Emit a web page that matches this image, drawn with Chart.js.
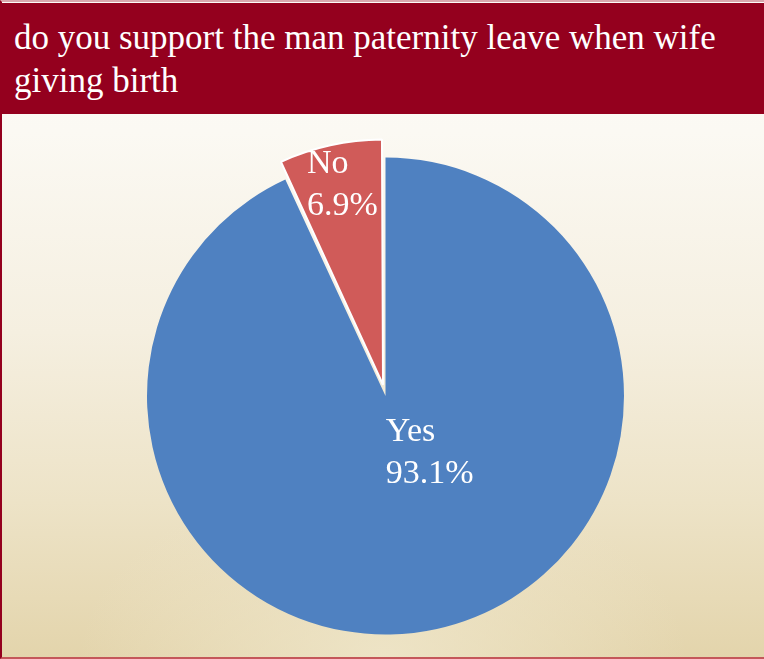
<!DOCTYPE html>
<html>
<head>
<meta charset="utf-8">
<script src="https://cdn.jsdelivr.net/npm/chart.js@4/dist/chart.umd.min.js"></script>
<style>
  html, body { margin: 0; padding: 0; background: #ffffff; }
  #frame {
    position: relative;
    width: 764px;
    height: 659px;
    overflow: hidden;
    box-sizing: border-box;
    background:
      radial-gradient(ellipse 40% 28% at 50% 100%, rgba(239, 230, 202, 0.85) 0%, rgba(239, 230, 202, 0) 100%),
      linear-gradient(to bottom, #fcfbf7 0px, #fbf9f3 130px, #f5efe0 330px, #ede3c7 500px, #e3d4ab 659px);
    border-left: 2px solid #94001e;
    border-bottom: 2px solid #c4575a;
    border-top: 2px solid #d9a8ae;
  }
  #titlebar {
    position: absolute;
    left: 0; right: 0; top: 1px;
    height: 111px;
    background: #94001e;
  }
  #title {
    position: absolute;
    left: 12px; top: 13px;
    margin: 0;
    font-family: "Liberation Serif", "Times New Roman", serif;
    font-weight: normal;
    font-size: 35px;
    line-height: 43px;
    color: #ffffff;
    white-space: nowrap;
  }
  #chart { position: absolute; left: 0; top: 0; }
</style>
</head>
<body>
<div id="frame">
  <div id="titlebar">
    <h1 id="title">do you support the man paternity leave when wife<br>giving birth</h1>
  </div>
  <canvas id="chart" width="764" height="659"></canvas>
</div>
<script>
// Survey answers and their shares (percent)
const categories = ['Yes', 'No'];
const shares = [93.1, 6.9];
const sliceColors = ['#4f81c1', '#d05b59'];

// Label block placement: fraction of the radius along the slice's middle
// angle, then a shift (px) to the left edge / first baseline
const labelPlacement = [
  { f: 0.2, dx: -10, dy: -2 },
  { f: 0.83, dx: -32, dy: -12 }
];

// Distance an arc is pushed out by its `offset` option (same rule ArcElement uses)
function arcShift(arc, p) {
  const off = (arc.options.offset || 0) / 4;
  const circ = p.endAngle - p.startAngle;
  const fix = 1 - Math.sin(Math.min(Math.PI, circ || 0));
  return off + off * fix;
}

const sliceLabels = {
  id: 'sliceLabels',
  afterDatasetsDraw(chart) {
    const ctx = chart.ctx;
    const meta = chart.getDatasetMeta(0);
    ctx.save();
    ctx.font = '34px "Liberation Serif", "Times New Roman", serif';
    ctx.fillStyle = '#ffffff';
    ctx.textAlign = 'left';
    ctx.textBaseline = 'alphabetic';
    meta.data.forEach((arc, i) => {
      const p = arc.getProps(['x', 'y', 'startAngle', 'endAngle', 'outerRadius'], true);
      const mid = (p.startAngle + p.endAngle) / 2;
      const t = arcShift(arc, p);
      const cx = p.x + Math.cos(mid) * t;
      const cy = p.y + Math.sin(mid) * t;
      const pl = labelPlacement[i];
      const left = cx + Math.cos(mid) * pl.f * p.outerRadius + pl.dx;
      const base = cy + Math.sin(mid) * pl.f * p.outerRadius + pl.dy;
      const lines = [categories[i], shares[i].toFixed(1) + '%'];
      lines.forEach((txt, k) => ctx.fillText(txt, left, base + k * 42));
    });
    ctx.restore();
  }
};

new Chart(document.getElementById('chart'), {
  type: 'pie',
  data: {
    labels: categories,
    datasets: [{
      data: shares,
      backgroundColor: sliceColors,
      borderColor: '#ffffff',
      borderWidth: [0, 2],
      offset: [0, 46],
      hoverOffset: 0
    }]
  },
  options: {
    responsive: false,
    animation: false,
    radius: 238.5,
    layout: { padding: { left: 140, right: 137, top: 150, bottom: 21 } },
    plugins: {
      legend: { display: false },
      tooltip: { enabled: false },
      title: { display: false }
    }
  },
  plugins: [sliceLabels]
});
</script>
</body>
</html>
